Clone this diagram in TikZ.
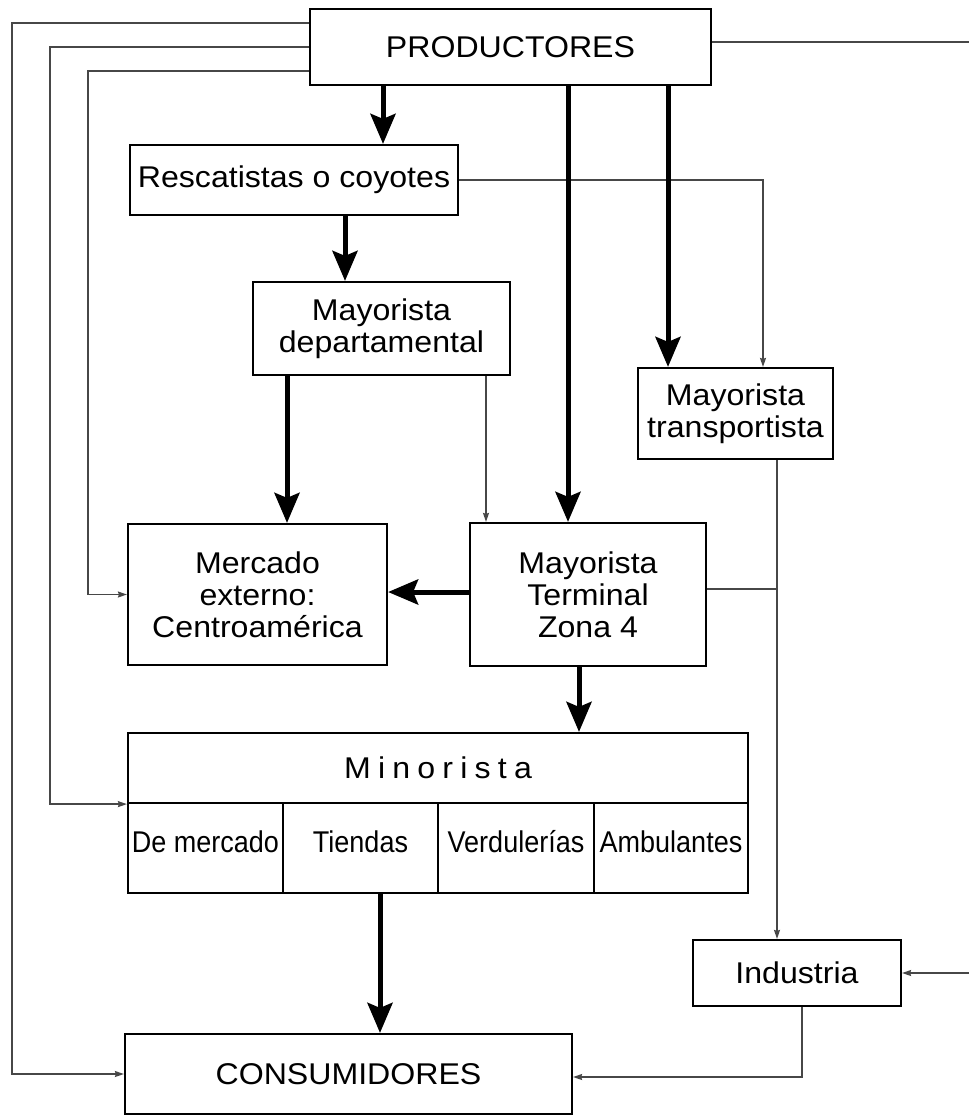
\documentclass[tikz,border=0pt]{standalone}
\usepackage{fontspec}
\setmainfont{Liberation Sans}[FakeStretch=1.07]
\newfontfamily\narrowfont[FakeStretch=0.9]{Liberation Sans}
\usetikzlibrary{arrows.meta}
\begin{document}
\begin{tikzpicture}[x=1pt,y=-1pt,
  font=\fontsize{30}{32}\selectfont,
  box/.style={draw, line width=2.2pt, inner sep=0pt, align=center},
  cell/.style={box, minimum height=90pt, text height=21pt, text depth=13pt,
    font=\narrowfont\fontsize{30}{32}\selectfont},
  bigarrow/.style={line width=5pt, -{Stealth[length=30pt,width=25pt,inset=5pt]}},
  thinline/.style={line width=1.3pt, draw=black!72},
  thinarrow/.style={thinline, -{Stealth[length=9pt,width=6pt,inset=1pt]}}]
\useasboundingbox (0,0) rectangle (969,1117);
% boxes
\node[box, minimum width=401pt, minimum height=76pt] (prod) at (510.5,47) {PRODUCTORES};
\node[box, minimum width=328pt, minimum height=70pt] (resc) at (294,180) {Rescatistas o coyotes};
\node[box, minimum width=257pt, minimum height=93pt] (depto) at (381.5,328.5) {Mayorista\\departamental};
\node[box, minimum width=195pt, minimum height=91pt] (trans) at (735.5,413.5) {Mayorista\\transportista};
\node[box, minimum width=259pt, minimum height=141pt] (merc) at (257.5,594.5) {Mercado\\externo:\\Centroamérica};
\node[box, minimum width=236pt, minimum height=143pt] (mt) at (588,594.5) {Mayorista\\Terminal\\Zona 4};
\node[box, minimum width=620pt, minimum height=70pt] (minor) at (438,768) {\addfontfeature{LetterSpace=24}Minorista};
\node[cell, minimum width=155pt] (dem) at (205.5,848) {De mercado};
\node[cell, minimum width=155pt] (tie) at (360.5,848) {Tiendas};
\node[cell, minimum width=156pt] (ver) at (516,848) {Verdulerías};
\node[cell, minimum width=154pt] (amb) at (671,848) {Ambulantes};
\node[box, minimum width=208pt, minimum height=66pt] (indus) at (797,973) {Industria};
\node[box, minimum width=447pt, minimum height=80pt] (cons) at (348.5,1074) {CONSUMIDORES};
% helper coordinates
\coordinate (x12) at (12,0);
\coordinate (x50) at (50,0);
\coordinate (x88) at (88,0);
\coordinate (x287) at (287,0);
\coordinate (x345) at (345,0);
\coordinate (x380) at (380,0);
\coordinate (x383) at (383,0);
\coordinate (x486) at (486,0);
\coordinate (x568) at (568,0);
\coordinate (x579) at (579,0);
\coordinate (x668) at (668,0);
\coordinate (x763) at (763,0);
\coordinate (x777) at (777,0);
\coordinate (x802) at (802,0);
\coordinate (y592) at (0,592);
\coordinate (y589) at (0,589);
\coordinate (redge1) at (969,42);
\coordinate (redge2) at (969,973);
\coordinate (p1) at ([yshift=24pt]prod.west);
\coordinate (p3) at ([yshift=-24pt]prod.west);
\coordinate (pr) at ([yshift=5pt]prod.east);
% thin connectors on the left
\draw[thinarrow] (p1) -- (p1 -| x12) |- (cons.west);
\draw[thinarrow] (prod.west) -- (prod.west -| x50) |- (minor.south west);
\draw[thinarrow] (p3) -- (p3 -| x88) |- (merc.west);
% thin connectors on the right
\draw[thinline] (pr) -- (redge1);
\draw[thinarrow] (resc.east) -- (resc.east -| x763) -- (trans.north -| x763);
\draw[thinarrow] (depto.south -| x486) -- (mt.north -| x486);
\draw[thinarrow] (trans.south -| x777) -- (indus.north -| x777);
\draw[thinline] (mt.east |- y589) -- (x777 |- y589);
\draw[thinarrow] (redge2) -- (indus.east);
\draw[thinarrow] (indus.south -| x802) |- ([yshift=-3pt]cons.east);
% thick arrows
\draw[bigarrow] (prod.south -| x383) -- (resc.north -| x383);
\draw[bigarrow] (prod.south -| x568) -- (mt.north -| x568);
\draw[bigarrow] (prod.south -| x668) -- (trans.north -| x668);
\draw[bigarrow] (resc.south -| x345) -- (depto.north -| x345);
\draw[bigarrow] (depto.south -| x287) -- (merc.north -| x287);
\draw[bigarrow] (mt.west |- y592) -- (merc.east |- y592);
\draw[bigarrow] (mt.south -| x579) -- (minor.north -| x579);
\draw[bigarrow] (tie.south -| x380) -- (cons.north -| x380);
\end{tikzpicture}
\end{document}
